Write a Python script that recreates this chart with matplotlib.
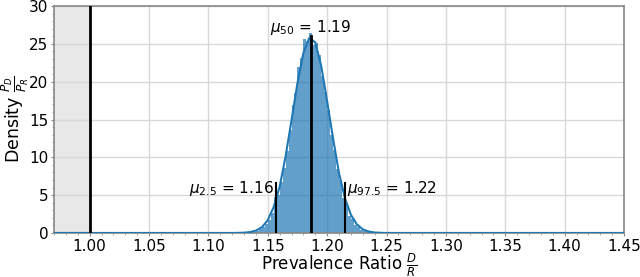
import numpy as np
import matplotlib
matplotlib.use("Agg")
import matplotlib.pyplot as plt
from matplotlib.ticker import AutoMinorLocator

# Histogram (bin edges start, width) and heights
bin_start = 1.1325
bin_width = 0.0025
hist_heights = [0.06, 0.10, 0.17, 0.29, 0.47, 0.75, 1.2, 1.7, 2.6, 4.7,
                5.0, 6.8, 8.6, 10.8, 13.6, 16.9, 18.5, 22.0, 23.2, 25.6,
                25.4, 26.5, 24.8, 25.1, 23.5, 20.8, 18.6, 16.2, 13.0, 11.0,
                8.4, 7.0, 4.6, 3.8, 2.2, 1.9, 1.0, 0.8, 0.45, 0.3,
                0.18, 0.1, 0.06, 0.03]

# KDE curve
kde_x = [0.97, 1.120, 1.125, 1.130, 1.135, 1.140, 1.145, 1.150, 1.155, 1.160,
         1.165, 1.170, 1.175, 1.180, 1.185, 1.190, 1.195, 1.200, 1.205,
         1.210, 1.215, 1.220, 1.225, 1.230, 1.235, 1.240, 1.245, 1.250, 1.45]
kde_y = [0.0, 0.0, 0.01, 0.04, 0.11, 0.31, 0.75, 1.68, 3.44, 6.1,
         10.1, 14.9, 19.8, 23.8, 25.8, 25.2, 22.1, 17.4, 12.5,
         7.9, 4.6, 2.4, 1.14, 0.48, 0.19, 0.06, 0.02, 0.0, 0.0]

# Reference and percentiles
null_value = 1.00
p025, p50, p975 = 1.157, 1.1863, 1.215
p50_height = 26.0
pct_height = 6.6
label_p025 = r"$\mu_{2.5}$ = 1.16"
label_p50 = r"$\mu_{50}$ = 1.19"
label_p975 = r"$\mu_{97.5}$ = 1.22"

xticks = [1.00, 1.05, 1.10, 1.15, 1.20, 1.25, 1.30, 1.35, 1.40, 1.45]
yticks = [0, 5, 10, 15, 20, 25, 30]
xlim = (0.97, 1.45)
ylim = (0, 30)

fig = plt.figure(figsize=(6.4, 2.77), dpi=100)
ax = fig.add_axes([0.0844, 0.159, 0.8906, 0.819])

ax.axvspan(xlim[0], null_value, color="#e8e8e8", zorder=0)

edges = bin_start + bin_width * np.arange(len(hist_heights))
ax.bar(edges, hist_heights, width=bin_width, align="edge", color="#1f77b4",
       alpha=0.7, linewidth=0, zorder=2)

ax.plot(kde_x, kde_y, color="#1f77b4", lw=1.5, zorder=3)

ax.axvline(null_value, color="black", lw=2, zorder=4)
ax.plot([p50, p50], [0, p50_height], color="black", lw=2, zorder=4)
ax.plot([p025, p025], [0, pct_height], color="black", lw=1.5, zorder=4)
ax.plot([p975, p975], [0, pct_height], color="black", lw=1.5, zorder=4)

ax.text(p50, 27.2, label_p50, ha="center", va="center", fontsize=11)
ax.text(p025 - 0.002, 5.9, label_p025, ha="right", va="center", fontsize=11)
ax.text(p975 + 0.0015, 5.9, label_p975, ha="left", va="center", fontsize=11)

ax.set_xlim(*xlim)
ax.set_ylim(*ylim)
ax.set_xticks(xticks)
ax.set_xticklabels([f"{t:.2f}" for t in xticks])
ax.set_yticks(yticks)
ax.xaxis.set_minor_locator(AutoMinorLocator(5))
ax.yaxis.set_minor_locator(AutoMinorLocator(5))
ax.tick_params(which="major", labelsize=11, length=2, width=0.8, color="#888888", pad=2)
ax.tick_params(which="minor", length=1.2, width=0.6, color="#999999")
ax.grid(True, which="major", color="#d8d8d8", lw=1, zorder=1)
ax.set_axisbelow(True)
for s in ax.spines.values():
    s.set_color("#888888")
    s.set_linewidth(1.2)

ax.set_xlabel(r"Prevalence Ratio $\frac{D}{R}$", fontsize=12, labelpad=-1.5)
ax.set_ylabel(r"Density $\frac{P_D}{P_R}$", fontsize=12.5, labelpad=-1.5)

fig.savefig("out.png", dpi=100)
